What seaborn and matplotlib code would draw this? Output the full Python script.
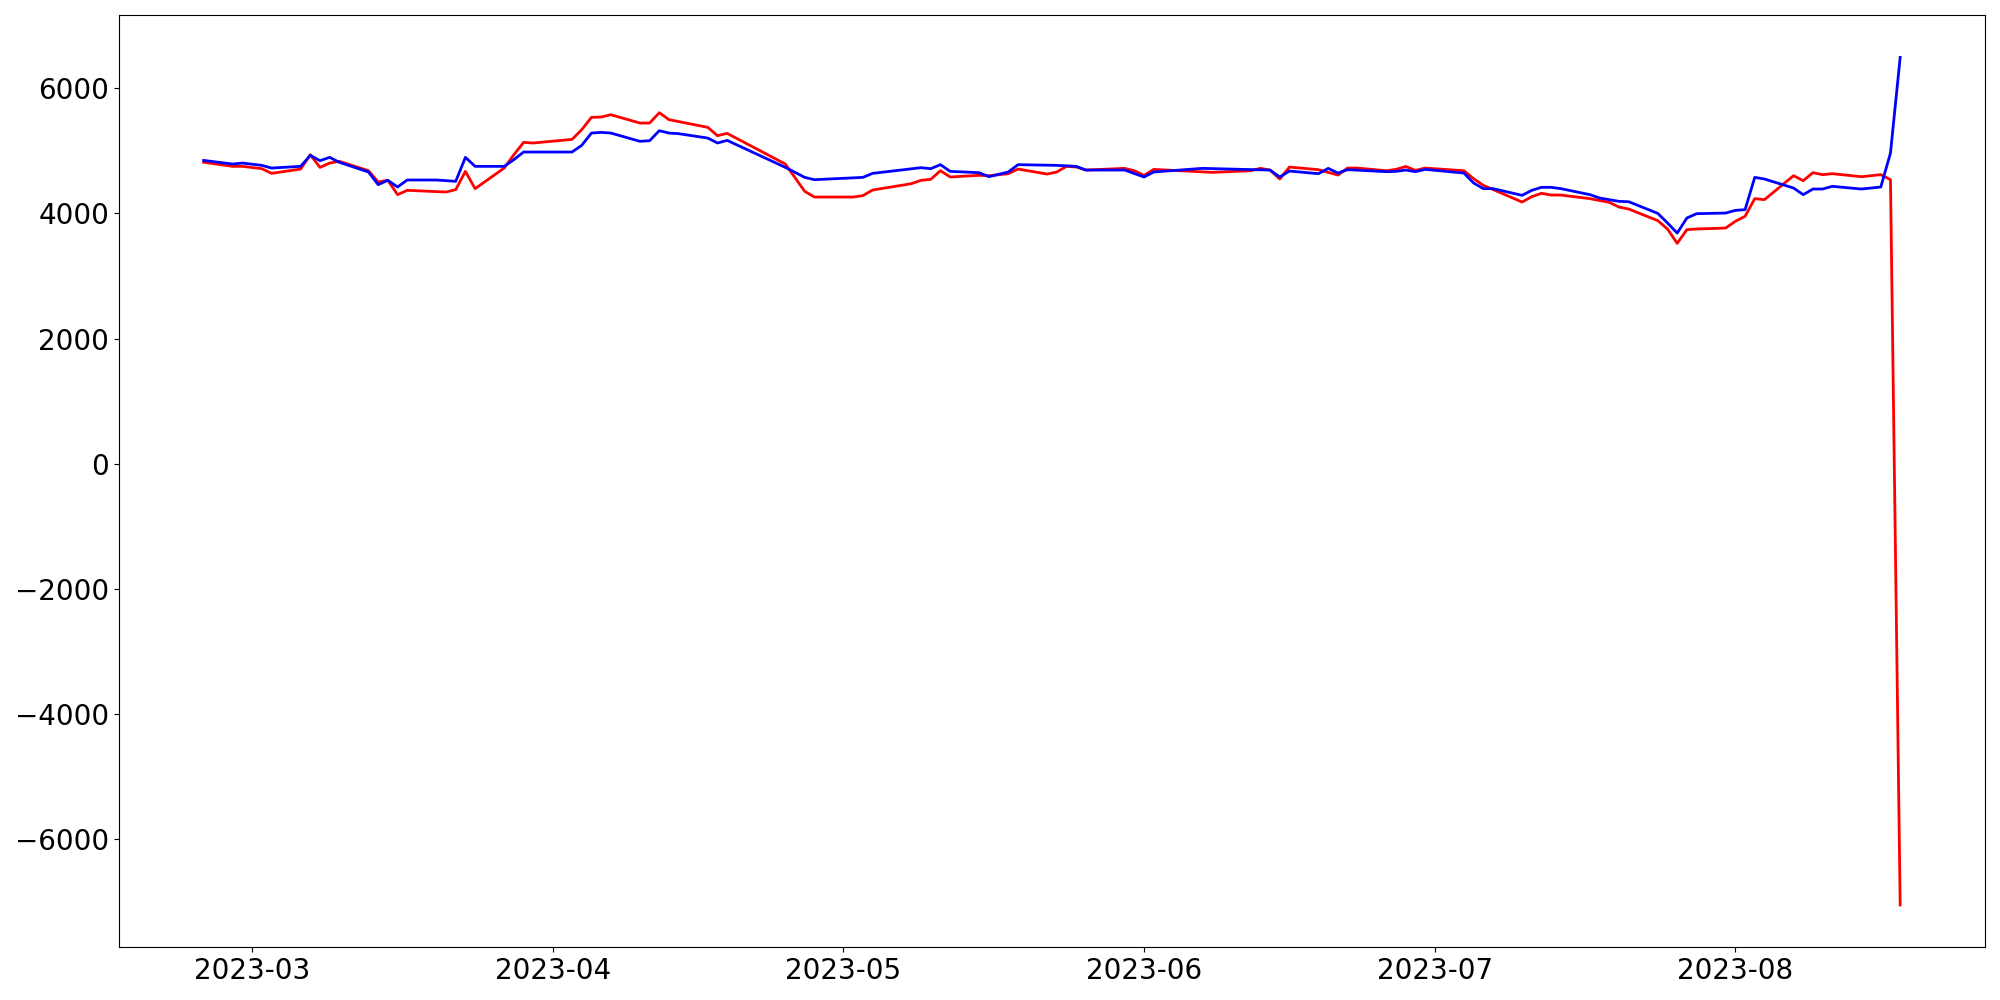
import matplotlib
matplotlib.use("Agg")
import matplotlib.pyplot as plt
import seaborn as sns
import pandas as pd

red_dates = [
    "2023-02-24", "2023-02-27", "2023-02-28", "2023-03-02", "2023-03-03", "2023-03-06",
    "2023-03-07", "2023-03-08", "2023-03-09", "2023-03-10", "2023-03-13", "2023-03-14",
    "2023-03-15", "2023-03-16", "2023-03-17", "2023-03-21", "2023-03-22", "2023-03-23",
    "2023-03-24", "2023-03-27", "2023-03-28", "2023-03-29", "2023-03-30", "2023-04-03",
    "2023-04-04", "2023-04-05", "2023-04-06", "2023-04-07", "2023-04-10", "2023-04-11",
    "2023-04-12", "2023-04-13", "2023-04-17", "2023-04-18", "2023-04-19", "2023-04-25",
    "2023-04-27", "2023-04-28", "2023-05-02", "2023-05-03", "2023-05-04", "2023-05-08",
    "2023-05-09", "2023-05-10", "2023-05-11", "2023-05-12", "2023-05-15", "2023-05-16",
    "2023-05-18", "2023-05-19", "2023-05-22", "2023-05-23", "2023-05-24", "2023-05-25",
    "2023-05-26", "2023-05-30", "2023-05-31", "2023-06-01", "2023-06-02", "2023-06-08",
    "2023-06-12", "2023-06-13", "2023-06-14", "2023-06-15", "2023-06-16", "2023-06-19",
    "2023-06-21", "2023-06-22", "2023-06-23", "2023-06-26", "2023-06-27", "2023-06-28",
    "2023-06-29", "2023-06-30", "2023-07-04", "2023-07-05", "2023-07-06", "2023-07-10",
    "2023-07-11", "2023-07-12", "2023-07-13", "2023-07-14", "2023-07-17", "2023-07-19",
    "2023-07-20", "2023-07-21", "2023-07-24", "2023-07-25", "2023-07-26", "2023-07-27",
    "2023-07-28", "2023-07-31", "2023-08-01", "2023-08-02", "2023-08-03", "2023-08-04",
    "2023-08-07", "2023-08-08", "2023-08-09", "2023-08-10", "2023-08-11", "2023-08-14",
    "2023-08-16", "2023-08-17", "2023-08-18",
]
red_values = [
    4815, 4750, 4750, 4713, 4638, 4707,
    4936, 4734, 4803, 4830, 4681, 4500,
    4527, 4298, 4367, 4340, 4378, 4670,
    4394, 4723, 4936, 5133, 5123, 5181,
    5336, 5533, 5538, 5575, 5442, 5442,
    5607, 5496, 5373, 5240, 5277, 4787,
    4351, 4260, 4260, 4282, 4372, 4473,
    4527, 4543, 4681, 4580, 4607, 4600,
    4633, 4707, 4627, 4660, 4750, 4740,
    4691, 4718, 4680, 4606, 4702, 4654,
    4680, 4718, 4691, 4548, 4739, 4697,
    4611, 4723, 4723, 4680, 4702, 4748,
    4686, 4723, 4680, 4553, 4447, 4180,
    4266, 4319, 4292, 4292, 4234, 4175,
    4100, 4068, 3883, 3749, 3520, 3739,
    3749, 3765, 3872, 3952, 4234, 4218,
    4601, 4521, 4649, 4617, 4633, 4585,
    4617, 4537, -7048,
]

blue_dates = [
    "2023-02-24", "2023-02-27", "2023-02-28", "2023-03-02", "2023-03-03", "2023-03-06",
    "2023-03-07", "2023-03-08", "2023-03-09", "2023-03-10", "2023-03-13", "2023-03-14",
    "2023-03-15", "2023-03-16", "2023-03-17", "2023-03-20", "2023-03-22", "2023-03-23",
    "2023-03-24", "2023-03-27", "2023-03-28", "2023-03-29", "2023-04-03", "2023-04-04",
    "2023-04-05", "2023-04-06", "2023-04-07", "2023-04-10", "2023-04-11", "2023-04-12",
    "2023-04-13", "2023-04-14", "2023-04-17", "2023-04-18", "2023-04-19", "2023-04-25",
    "2023-04-27", "2023-04-28", "2023-05-03", "2023-05-04", "2023-05-09", "2023-05-10",
    "2023-05-11", "2023-05-12", "2023-05-15", "2023-05-16", "2023-05-18", "2023-05-19",
    "2023-05-23", "2023-05-25", "2023-05-26", "2023-05-30", "2023-06-01", "2023-06-02",
    "2023-06-07", "2023-06-14", "2023-06-15", "2023-06-16", "2023-06-19", "2023-06-20",
    "2023-06-21", "2023-06-22", "2023-06-26", "2023-06-27", "2023-06-28", "2023-06-29",
    "2023-06-30", "2023-07-04", "2023-07-05", "2023-07-06", "2023-07-07", "2023-07-10",
    "2023-07-11", "2023-07-12", "2023-07-13", "2023-07-14", "2023-07-17", "2023-07-18",
    "2023-07-20", "2023-07-21", "2023-07-24", "2023-07-25", "2023-07-26", "2023-07-27",
    "2023-07-28", "2023-07-31", "2023-08-01", "2023-08-02", "2023-08-03", "2023-08-04",
    "2023-08-07", "2023-08-08", "2023-08-09", "2023-08-10", "2023-08-11", "2023-08-14",
    "2023-08-16", "2023-08-17", "2023-08-18",
]
blue_values = [
    4845, 4787, 4803, 4766, 4723, 4750,
    4926, 4841, 4894, 4814, 4660, 4458,
    4527, 4420, 4532, 4532, 4511, 4894,
    4750, 4750, 4857, 4979, 4979, 5086,
    5282, 5293, 5282, 5150, 5160, 5320,
    5282, 5272, 5202, 5123, 5165, 4734,
    4574, 4537, 4574, 4638, 4729, 4713,
    4777, 4670, 4649, 4585, 4660, 4777,
    4766, 4750, 4691, 4691, 4580, 4660,
    4718, 4691, 4580, 4675, 4633, 4718,
    4643, 4697, 4665, 4670, 4691, 4665,
    4702, 4643, 4484, 4394, 4394, 4287,
    4367, 4415, 4415, 4394, 4298, 4244,
    4191, 4185, 3999, 3845, 3685, 3925,
    3994, 4004, 4047, 4058, 4574, 4548,
    4404, 4298, 4388, 4388, 4431, 4388,
    4420, 4963, 6491,
]

series_names = ["red", "blue"]

df = pd.concat([
    pd.DataFrame({"date": pd.to_datetime(red_dates), "value": red_values, "series": series_names[0]}),
    pd.DataFrame({"date": pd.to_datetime(blue_dates), "value": blue_values, "series": series_names[1]}),
], ignore_index=True)

fig, ax = plt.subplots(figsize=(20, 10), dpi=100)
sns.lineplot(data=df, x="date", y="value", hue="series", hue_order=series_names,
             palette={"red": "red", "blue": "blue"}, linewidth=2, legend=False, ax=ax)
ax.set_xlabel("")
ax.set_ylabel("")
ax.tick_params(labelsize=20)
fig.tight_layout()
fig.savefig("out.png", dpi=100)
